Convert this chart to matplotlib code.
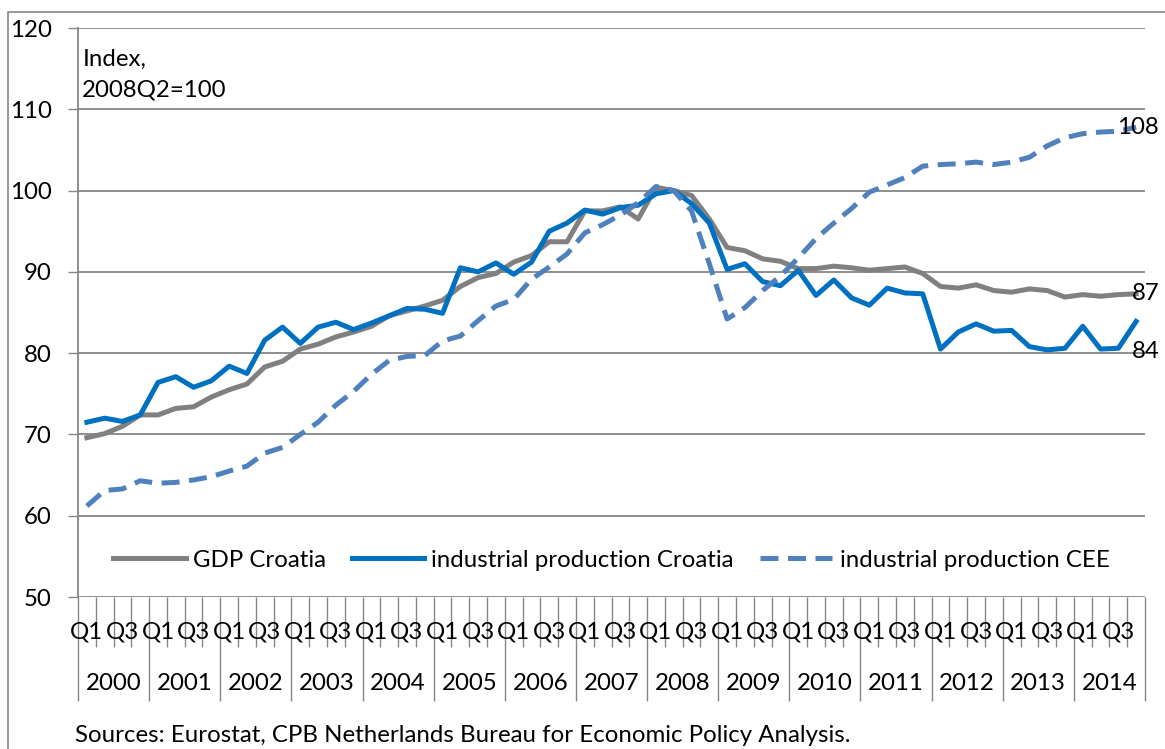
import matplotlib
matplotlib.use("Agg")
import matplotlib.pyplot as plt
from matplotlib.patches import Rectangle
import numpy as np

plt.rcParams["font.family"] = ["Lato", "DejaVu Sans"]

# quarterly index, 2008Q2=100, 2000Q1 .. 2014Q4
years = [str(y) for y in range(2000, 2015)]
quarters = ["Q1", "Q2", "Q3", "Q4"]

gdp_croatia = [
    69.6, 70.1, 71.0, 72.4, 72.4, 73.2, 73.4, 74.6, 75.5, 76.2, 78.3, 79.0,
    80.5, 81.1, 82.0, 82.6, 83.3, 84.6, 85.2, 85.8, 86.5, 88.2, 89.3, 89.8,
    91.2, 92.0, 93.7, 93.7, 97.5, 97.5, 98.0, 96.5, 100.4, 100.0, 99.4, 96.5,
    93.0, 92.6, 91.6, 91.3, 90.4, 90.4, 90.7, 90.5, 90.2, 90.4, 90.6, 89.8,
    88.2, 88.0, 88.4, 87.7, 87.5, 87.9, 87.7, 86.9, 87.2, 87.0, 87.2, 87.3,
]
ip_croatia = [
    71.5, 72.0, 71.6, 72.4, 76.4, 77.1, 75.8, 76.6, 78.4, 77.5, 81.6, 83.2,
    81.2, 83.2, 83.8, 82.9, 83.7, 84.6, 85.5, 85.4, 84.9, 90.5, 90.0, 91.1,
    89.7, 91.2, 95.0, 96.0, 97.6, 97.1, 97.9, 98.2, 99.6, 100.0, 98.4, 96.0,
    90.3, 91.0, 88.8, 88.3, 90.2, 87.1, 89.0, 86.8, 85.9, 88.0, 87.4, 87.3,
    80.5, 82.6, 83.6, 82.7, 82.8, 80.8, 80.4, 80.6, 83.3, 80.5, 80.6, 83.9,
]
ip_cee = [
    61.2, 63.1, 63.3, 64.3, 64.0, 64.1, 64.4, 64.8, 65.5, 66.1, 67.7, 68.4,
    70.0, 71.5, 73.6, 75.3, 77.4, 79.1, 79.6, 79.7, 81.5, 82.1, 84.0, 85.8,
    86.6, 89.1, 90.6, 92.2, 94.8, 95.8, 97.0, 98.5, 100.5, 100.0, 97.5, 91.0,
    84.2, 85.6, 87.7, 89.5, 91.7, 94.1, 96.0, 97.8, 99.8, 100.7, 101.6, 103.0,
    103.2, 103.3, 103.5, 103.2, 103.5, 104.1, 105.5, 106.5, 107.0, 107.2, 107.3, 107.8,
]

grid_col = "#868686"
fs = 17.3

fig = plt.figure(figsize=(11.65, 7.49), dpi=100)
ax = fig.add_axes([78 / 1165, 1 - 597 / 749, (1145 - 78) / 1165, (597 - 28) / 749])

n = len(gdp_croatia)
x = np.arange(n) + 0.5

ax.plot(x, gdp_croatia, color="#808080", lw=3.6, label="GDP Croatia", solid_joinstyle="round")
ax.plot(x, ip_croatia, color="#0070C0", lw=3.6, label="industrial production Croatia",
        solid_joinstyle="round")
ax.plot(x, ip_cee, color="#4F81BD", lw=3.6, ls=(0, (3.6, 1.9)),
        label="industrial production CEE")

ax.set_xlim(0, n)
ax.set_ylim(50, 120)
ax.set_yticks(np.arange(50, 121, 10))
ax.yaxis.grid(True, color=grid_col, lw=1.3)
ax.set_axisbelow(True)
for s in ["top", "right", "bottom"]:
    ax.spines[s].set_visible(False)
ax.spines["left"].set_color(grid_col)
ax.spines["left"].set_linewidth(1.3)
ax.tick_params(axis="y", length=7, color=grid_col, width=1.0, labelsize=fs, pad=12)

# x axis: boundaries between quarters and years
ax.set_xticks(np.arange(0, n + 1, 4))
ax.set_xticks([i for i in range(n + 1) if i % 4], minor=True)
ax.tick_params(axis="x", which="major", length=75, color=grid_col, width=1.0, labelbottom=False)
ax.tick_params(axis="x", which="minor", length=36, color=grid_col, width=1.0)

for i in range(n):
    q = quarters[i % 4]
    if q in ("Q1", "Q3"):
        ax.annotate(q, (i + 0.5, 0), xycoords=("data", "axes fraction"),
                    xytext=(0, -25), textcoords="offset points",
                    ha="center", va="center", fontsize=fs)
for j, yr in enumerate(years):
    ax.annotate(yr, (j * 4 + 2, 0), xycoords=("data", "axes fraction"),
                xytext=(0, -62.5), textcoords="offset points",
                ha="center", va="center", fontsize=fs)

# end labels
ax.annotate("108", (x[-1], ip_cee[-1]), xytext=(-14, 0), textcoords="offset points",
            ha="left", va="center", fontsize=fs)
ax.annotate("87", (x[-1], gdp_croatia[-1]), xytext=(-3, 0), textcoords="offset points",
            ha="left", va="center", fontsize=fs)
ax.annotate("84", (x[-1], ip_croatia[-1]), xytext=(-3, -22), textcoords="offset points",
            ha="left", va="center", fontsize=fs)

ax.text(0.004, 0.963, "Index,\n2008Q2=100", transform=ax.transAxes, ha="left", va="top",
        fontsize=fs, linespacing=1.55)

ax.legend(loc="center", bbox_to_anchor=(0.5, 0.065), ncol=3, frameon=False,
          fontsize=fs, handlelength=3.0, handletextpad=0.3, columnspacing=1.1)

fig.text(75 / 1165, 1 - 736 / 749, "Sources: Eurostat, CPB Netherlands Bureau for Economic Policy Analysis.",
         ha="left", va="center", fontsize=fs)

fig.patches.append(Rectangle((8 / 1165, -0.1), 1.2, 1 - 12 / 749 + 0.1,
                             transform=fig.transFigure, fill=False,
                             edgecolor=grid_col, lw=1.2))

fig.savefig("out.png", dpi=100)
